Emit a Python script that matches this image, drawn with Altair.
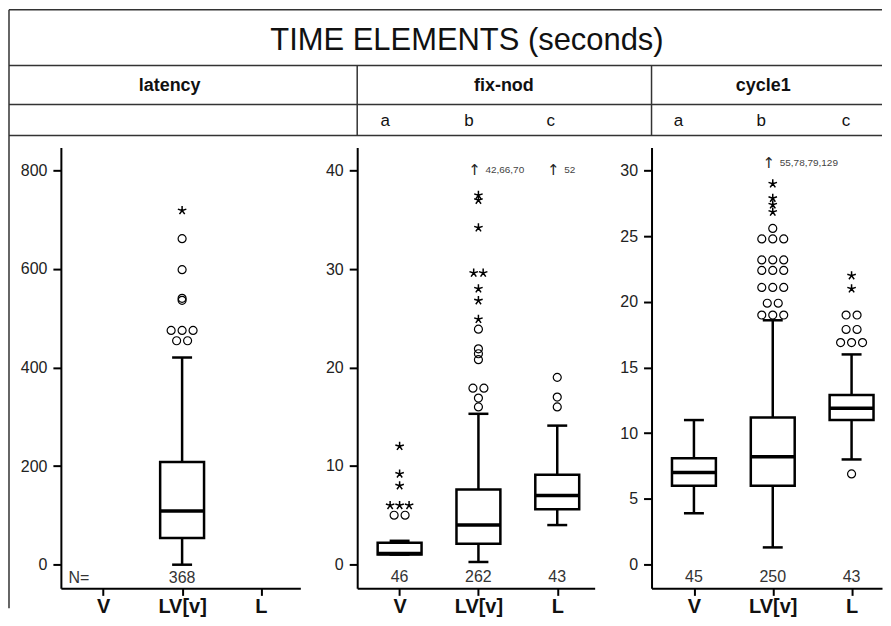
import json
import altair as alt
import pandas as pd

FONT = "Liberation Sans, Arial, DejaVu Sans, sans-serif"
ARROW_FONT = "DejaVu Sans, Liberation Sans, sans-serif"

# ---------------- data ----------------
categories = ["V", "LV[v]", "L"]
panel_names = ["latency", "fix-nod", "cycle1"]
panel_yticks = [[0, 200, 400, 600, 800], [0, 10, 20, 30, 40], [0, 5, 10, 15, 20, 25, 30]]

# box statistics: lower whisker, Q1, median, Q3, upper whisker, N
box_panel = ["latency", "fix-nod", "fix-nod", "fix-nod", "cycle1", "cycle1", "cycle1"]
box_group = ["LV[v]", "V", "LV[v]", "L", "V", "LV[v]", "L"]
box_low = [0, 1.0, 0.25, 4.0, 3.9, 1.3, 8.0]
box_q1 = [54, 1.0, 2.1, 5.6, 6.0, 6.0, 11.0]
box_median = [109, 1.1, 4.0, 7.0, 7.0, 8.2, 11.9]
box_q3 = [208, 2.2, 7.6, 9.1, 8.1, 11.2, 12.9]
box_high = [420, 2.4, 15.3, 14.1, 11.0, 18.6, 16.0]
box_n = [368, 46, 262, 43, 45, 250, 43]

# outliers (circles) and extreme values (stars)
lat_lv_circles = [454, 454, 475, 475, 475, 536, 540, 598, 661]
lat_lv_stars = [718]
fix_v_circles = [5.0, 5.0]
fix_v_stars = [6.0, 6.0, 6.0, 8.0, 9.2, 12.0]
fix_lv_circles = [16.0, 16.9, 17.9, 17.9, 20.8, 21.4, 21.9, 23.9]
fix_lv_stars = [24.9, 26.8, 28.0, 29.6, 29.6, 34.2, 37.0, 37.5]
fix_l_circles = [16.0, 17.0, 19.0]
cyc_lv_circles = [19.0, 19.0, 19.0, 19.9, 19.9, 21.1, 21.1, 21.1, 22.4, 22.4, 22.4,
                  23.2, 23.2, 23.2, 24.8, 24.8, 24.8, 25.6]
cyc_lv_stars = [26.85, 27.4, 27.9, 29.0]
cyc_l_circles = [6.9, 16.9, 16.9, 16.9, 17.9, 17.9, 19.0, 19.0]
cyc_l_stars = [21.0, 22.0]

outlier_sets = [
    ("latency", "LV[v]", "circle", lat_lv_circles),
    ("latency", "LV[v]", "star", lat_lv_stars),
    ("fix-nod", "V", "circle", fix_v_circles),
    ("fix-nod", "V", "star", fix_v_stars),
    ("fix-nod", "LV[v]", "circle", fix_lv_circles),
    ("fix-nod", "LV[v]", "star", fix_lv_stars),
    ("fix-nod", "L", "circle", fix_l_circles),
    ("cycle1", "LV[v]", "circle", cyc_lv_circles),
    ("cycle1", "LV[v]", "star", cyc_lv_stars),
    ("cycle1", "L", "circle", cyc_l_circles),
    ("cycle1", "L", "star", cyc_l_stars),
]

# cases beyond the top of the scale
far_panel = ["fix-nod", "fix-nod", "cycle1"]
far_group = ["LV[v]", "L", "LV[v]"]
far_cases = ["42,66,70", "52", "55,78,79,129"]
far_y = [40.1, 40.1, 30.6]

# ---------------- layout constants ----------------
panel_width = [240, 238, 231]
panel_ydomain = [[-48, 846], [-2.43, 42.36], [-1.82, 31.77]]
PLOT_H = 442
HSPACE = 57
STEP = 79.0      # px between categories
OFF = 42.5       # px from y axis to first category
BOX_HALF = 22.0
CAP_HALF = 10.0
HDR_H = 127
VSPACE = 11
LEFT = -52       # left table border relative to first plot

def px(v):
    return v / STEP

cat_index = {c: i for i, c in enumerate(categories)}

box_df = pd.DataFrame({
    "panel": box_panel, "group": box_group, "low": box_low, "q1": box_q1,
    "med": box_median, "q3": box_q3, "high": box_high, "n": box_n,
})
box_df["xi"] = box_df["group"].map(cat_index).astype(float)
box_df["xl"] = box_df["xi"] - px(BOX_HALF)
box_df["xr"] = box_df["xi"] + px(BOX_HALF)
box_df["cl"] = box_df["xi"] - px(CAP_HALF)
box_df["cr"] = box_df["xi"] + px(CAP_HALF)
box_df["zero"] = 0.0
box_df["nlab"] = box_df["n"].astype(str)


def spread(values, gap):
    counts = {}
    for v in values:
        counts[v] = counts.get(v, 0) + 1
    seen = {}
    out = []
    for v in values:
        k = seen.get(v, 0)
        seen[v] = k + 1
        out.append((k - (counts[v] - 1) / 2) * gap)
    return out


rows = []
for pn, grp, kind, vals in outlier_sets:
    gap = 11.0 if kind == "circle" else 9.5
    for v, o in zip(vals, spread(vals, gap)):
        rows.append({"panel": pn, "kind": kind, "value": v,
                     "xo": cat_index[grp] + px(o)})
out_df = pd.DataFrame(rows)

far_df = pd.DataFrame({"panel": far_panel, "group": far_group, "cases": far_cases, "y": far_y})
far_df["xa"] = far_df["group"].map(cat_index) - px(4)
far_df["xt"] = far_df["group"].map(cat_index) + px(7)
far_df["arrow"] = "\u2191"

STAR = ("M0,0L0,-1M0,0L0.951,-0.309M0,0L0.588,0.809M0,0L-0.588,0.809"
        "M0,0L-0.951,-0.309")
LABEL_EXPR = json.dumps(categories) + "[datum.value]"


def panel_chart(i):
    name = panel_names[i]
    W = panel_width[i]
    xs = alt.Scale(domain=[-px(OFF), px(W - OFF)], nice=False, zero=False)
    ys = alt.Scale(domain=panel_ydomain[i], nice=False, zero=False)
    xaxis = alt.Axis(values=[0, 1, 2], labelExpr=LABEL_EXPR, title=None, grid=False,
                     tickSize=7, tickWidth=2, tickColor="black", domainColor="black",
                     domainWidth=2, labelFontSize=20, labelFontWeight="bold",
                     labelColor="#111", labelPadding=1, labelFont=FONT)
    yaxis = alt.Axis(values=panel_yticks[i], format="d", title=None, grid=False,
                     tickSize=8, tickWidth=2, tickColor="black", domainColor="black",
                     domainWidth=2, labelFontSize=16, labelColor="#222",
                     labelPadding=6, labelFont=FONT)

    def X(f):
        return alt.X(f, scale=xs, axis=xaxis)

    def Y(f):
        return alt.Y(f, scale=ys, axis=yaxis)

    b = box_df[box_df["panel"] == name]
    layers = [
        alt.Chart(b).mark_rule(color="black", strokeWidth=2.5).encode(
            x=X("xi:Q"), y=Y("q3:Q"), y2="high:Q"),
        alt.Chart(b).mark_rule(color="black", strokeWidth=2.5).encode(
            x=X("xi:Q"), y=Y("low:Q"), y2="q1:Q"),
        alt.Chart(b).mark_rule(color="black", strokeWidth=2.5).encode(
            x=X("cl:Q"), x2="cr:Q", y=Y("high:Q")),
        alt.Chart(b).mark_rule(color="black", strokeWidth=2.5).encode(
            x=X("cl:Q"), x2="cr:Q", y=Y("low:Q")),
        alt.Chart(b).mark_rect(fill="white", stroke="black", strokeWidth=2.5).encode(
            x=X("xl:Q"), x2="xr:Q", y=Y("q1:Q"), y2="q3:Q"),
        alt.Chart(b).mark_rule(color="black", strokeWidth=3.5).encode(
            x=X("xl:Q"), x2="xr:Q", y=Y("med:Q")),
        alt.Chart(b).mark_text(font=FONT, fontSize=16, color="#333", dy=13,
                               baseline="middle").encode(
            x=X("xi:Q"), y=Y("zero:Q"), text="nlab:N"),
    ]
    o = out_df[out_df["panel"] == name]
    oc = o[o["kind"] == "circle"]
    os_ = o[o["kind"] == "star"]
    if len(oc):
        layers.append(alt.Chart(oc).mark_point(shape="circle", filled=False, color="black",
                                               strokeWidth=1.2, size=64, opacity=1).encode(
            x=X("xo:Q"), y=Y("value:Q")))
    if len(os_):
        layers.append(alt.Chart(os_).mark_point(shape=STAR, filled=False, color="black",
                                                strokeWidth=1.5, size=80, opacity=1).encode(
            x=X("xo:Q"), y=Y("value:Q")))
    f = far_df[far_df["panel"] == name]
    if len(f):
        layers.append(alt.Chart(f).mark_text(font=ARROW_FONT, fontSize=15, color="#222",
                                             baseline="middle").encode(
            x=X("xa:Q"), y=Y("y:Q"), text="arrow:N"))
        layers.append(alt.Chart(f).mark_text(font=FONT, fontSize=10, color="#444",
                                             align="left", baseline="middle").encode(
            x=X("xt:Q"), y=Y("y:Q"), text="cases:N"))
    if i == 0:
        nlab = pd.DataFrame({"x": [-px(OFF - 18)], "zero": [0.0], "t": ["N="]})
        layers.append(alt.Chart(nlab).mark_text(font=FONT, fontSize=16, color="#333", dy=13,
                                                baseline="middle").encode(
            x=X("x:Q"), y=Y("zero:Q"), text="t:N"))
    return alt.layer(*layers).properties(width=W, height=PLOT_H)


panels = [panel_chart(i) for i in range(3)]

# ---------------- header table ----------------
p_left = [0, panel_width[0] + HSPACE, panel_width[0] + panel_width[1] + 2 * HSPACE]
RIGHT = p_left[2] + panel_width[2]
row_lines = [0, 56, 95, HDR_H - 1]
hdr_rules = pd.DataFrame({
    "x": [LEFT] * 4 + [LEFT, p_left[1], p_left[2]],
    "x2": [RIGHT] * 4 + [LEFT, p_left[1], p_left[2]],
    "y": row_lines + [0, row_lines[1], row_lines[1]],
    "y2": row_lines + [HDR_H + VSPACE + PLOT_H + 20, row_lines[3], row_lines[3]],
})
title_df = pd.DataFrame({"t": ["TIME ELEMENTS (seconds)"], "x": [407], "y": [31]})
names_df = pd.DataFrame({"t": panel_names, "x": [109, 444, 704], "y": [76, 76, 76]})
letters_df = pd.DataFrame({"t": ["a", "b", "c", "a", "b", "c"],
                           "x": [325, 409, 491, 619, 702, 787], "y": [112] * 6})

def hx(f):
    return alt.X(f, scale=None, axis=None)

def hy(f):
    return alt.Y(f, scale=None, axis=None)

header = alt.layer(
    alt.Chart(hdr_rules).mark_rule(color="#333", strokeWidth=1.5).encode(
        x=hx("x:Q"), x2="x2:Q", y=hy("y:Q"), y2="y2:Q"),
    alt.Chart(title_df).mark_text(font=FONT, fontSize=31, color="#111",
                                  baseline="middle").encode(x=hx("x:Q"), y=hy("y:Q"), text="t:N"),
    alt.Chart(names_df).mark_text(font=FONT, fontSize=18, fontWeight="bold", color="#111",
                                  baseline="middle").encode(x=hx("x:Q"), y=hy("y:Q"), text="t:N"),
    alt.Chart(letters_df).mark_text(font=FONT, fontSize=17, color="#111",
                                    baseline="middle").encode(x=hx("x:Q"), y=hy("y:Q"), text="t:N"),
).properties(width=RIGHT, height=HDR_H)

chart = alt.vconcat(
    header,
    alt.hconcat(*panels, spacing=HSPACE, bounds="flush"),
    spacing=VSPACE, bounds="flush",
).properties(padding=0, background="white").configure_view(strokeWidth=0)

chart.save("out.html", embed_options={"renderer": "svg", "actions": False})
